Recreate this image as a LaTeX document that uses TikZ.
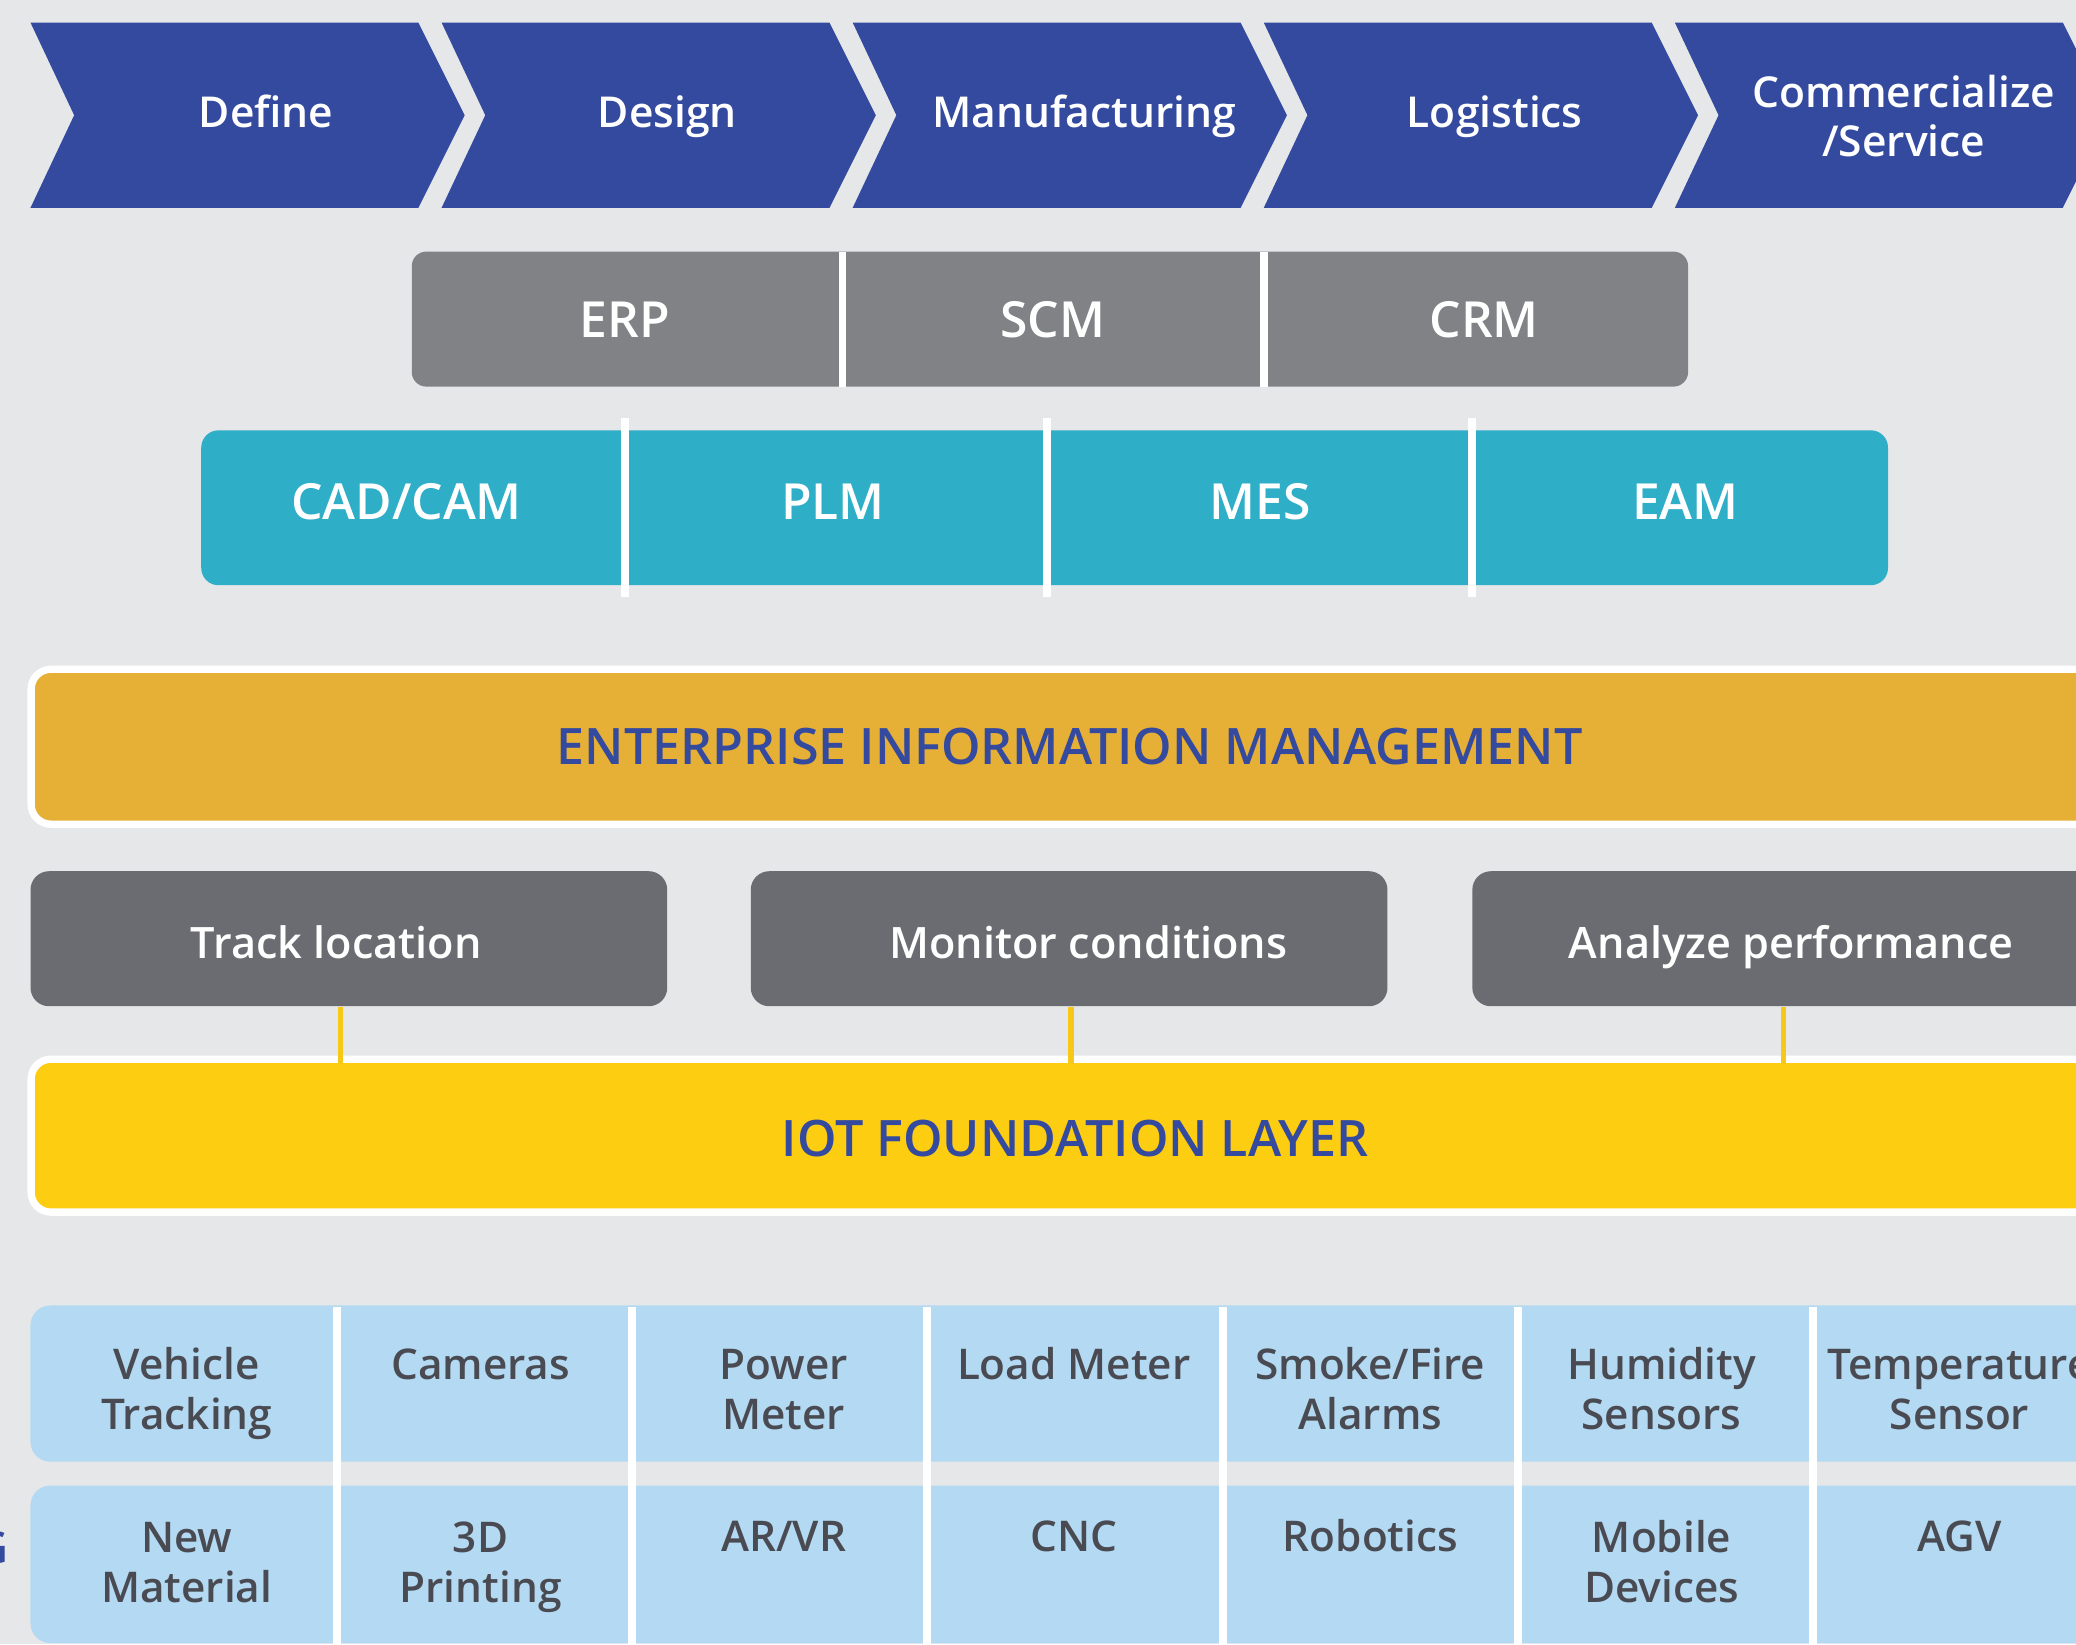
\documentclass[tikz,border=0pt]{standalone}
\usepackage{fontspec}
\setmainfont{Open Sans}
\IfFontExistsTF{Open Sans SemiBold}{\newfontfamily\sbf{Open Sans SemiBold}}{%
  \IfFontExistsTF{Open Sans Semibold}{\newfontfamily\sbf{Open Sans Semibold}}{%
    \newfontfamily\sbf{Open Sans}[FakeBold=1.3]}}
\definecolor{cbg}{HTML}{E6E7E9}
\definecolor{cblue}{HTML}{344A9F}
\definecolor{cgray}{HTML}{808286}
\definecolor{cteal}{HTML}{2FAEC8}
\definecolor{corange}{HTML}{E6AF36}
\definecolor{cdark}{HTML}{6B6C71}
\definecolor{cyellow}{HTML}{FDCD12}
\definecolor{cline}{HTML}{F7C816}
\definecolor{clight}{HTML}{B3DAF2}
\definecolor{ctext}{HTML}{4A4B52}
\begin{document}
\begin{tikzpicture}[x=0.02cm,y=-0.02cm,
  chevtxt/.style={text=white, inner sep=0, align=center, anchor=base, font=\sbf\fontsize{18.3}{21}\selectfont},
  bartxt/.style={text=white, inner sep=0, anchor=base, font=\sbf\fontsize{21.4}{26}\selectfont},
  layertxt/.style={text=cblue, inner sep=0, anchor=base, font=\sbf\fontsize{21.6}{26}\selectfont},
  darkbox/.style={fill=cdark, rounded corners=0.28cm, inner sep=0,
     minimum width=9.62cm, minimum height=2.04cm},
  boxtxt/.style={text=white, inner sep=0, anchor=base, font=\sbf\fontsize{18.6}{23}\selectfont},
  conn/.style={draw=cline, line width=0.08cm},
  celltxt/.style={text=ctext, inner sep=0, align=center, anchor=base, font=\sbf\fontsize{18.2}{21.5}\selectfont},
  divider/.style={fill=white}
]
\useasboundingbox (0,0) rectangle (1568,1242);
\fill[cbg] (0,0) rectangle (1568,1242);
\clip (0,0) rectangle (1568,1242);

% chevrons
\foreach \x in {23,333.5,644,954.5,1265}
  \fill[cblue] (\x,17) -- ++(293,0) -- ++(35,70) -- ++(-35,70) -- ++(-293,0) -- ++(33,-70) -- cycle;
\node[chevtxt] (define) at (201,96) {Define};
\node[chevtxt] (design) at (504,96) {Design};
\node[chevtxt] (manuf) at (819,96) {Manufacturing};
\node[chevtxt] (logis) at (1129,96) {Logistics};
\node[chevtxt] (comm) at (1438,118) {Commercialize\\/Service};

% ERP / SCM / CRM
\fill[cgray, rounded corners=0.22cm] (311,190) rectangle (1275,292);
\fill[divider] (633.5,190) rectangle (639,292);
\fill[divider] (952,190) rectangle (957.5,292);
\node[bartxt] (erp) at (472,255) {ERP};
\node[bartxt] (scm) at (795,255) {SCM};
\node[bartxt] (crm) at (1121,255) {CRM};

% CAD/CAM row
\fill[cteal, rounded corners=0.26cm] (152,325) rectangle (1426,442);
\fill[divider] (469,316) rectangle (475,451);
\fill[divider] (788,316) rectangle (794,451);
\fill[divider] (1109,316) rectangle (1115,451);
\node[bartxt] (cad) at (307,392) {CAD/CAM};
\node[bartxt] (plm) at (629,392) {PLM};
\node[bartxt] (mes) at (952,392) {MES};
\node[bartxt] (eam) at (1273,392) {EAM};

% Enterprise information management
\draw[white, line width=0.11cm, fill=corange, rounded corners=0.3cm] (23.5,505.5) rectangle (1750,622.5);
\node[layertxt] (eim) at (808,577.5) {ENTERPRISE INFORMATION MANAGEMENT};

% dark boxes
\node[darkbox] (track) at (263.5,709) {};
\node[darkbox] (monitor) at (807.5,709) {};
\node[darkbox] (analyze) at (1352.5,709) {};
\node[boxtxt] (tracktxt) at (254,724) {Track location};
\node[boxtxt] (monitortxt) at (822,724) {Monitor conditions};
\node[boxtxt] (analyzetxt) at (1353,724) {Analyze performance};

% IoT layer
\draw[white, line width=0.11cm, fill=cyellow, rounded corners=0.3cm] (23.5,800) rectangle (1750,915.5);
\node[layertxt] (iot) at (812,873.5) {IOT FOUNDATION LAYER};
\coordinate (iottop) at (0,803);
\draw[conn] ([xshift=-0.13cm]track.south) -- ([xshift=-0.13cm]track.south |- iottop);
\draw[conn] ([xshift=0.03cm]monitor.south) -- ([xshift=0.03cm]monitor.south |- iottop);
\draw[conn] ([xshift=-0.11cm]analyze.south) -- ([xshift=-0.11cm]analyze.south |- iottop);

% bottom grid
\fill[clight, rounded corners=0.3cm] (23,986) rectangle (1750,1104);
\fill[clight, rounded corners=0.3cm] (23,1122) rectangle (1750,1241);
\foreach \x in {254.5,477.5,700.5,923.5,1146.5,1369.5}
  \fill[divider] (\x-3,987) rectangle (\x+3,1242);

\node[celltxt] (c11) at (141,1080) {Vehicle\\Tracking};
\node[celltxt] (c12) at (363,1042) {Cameras};
\node[celltxt] (c13) at (592,1080) {Power\\Meter};
\node[celltxt] (c14) at (811,1042) {Load Meter};
\node[celltxt] (c15) at (1035,1080) {Smoke/Fire\\Alarms};
\node[celltxt] (c16) at (1255,1080) {Humidity\\Sensors};
\node[celltxt] (c17) at (1480,1080) {Temperature\\Sensor};

\node[celltxt] (c21) at (141,1210) {New\\Material};
\node[celltxt] (c22) at (363,1210) {3D\\Printing};
\node[celltxt] (c23) at (592,1172) {AR/VR};
\node[celltxt] (c24) at (811,1172) {CNC};
\node[celltxt] (c25) at (1035,1172) {Robotics};
\node[celltxt] (c26) at (1255,1210) {Mobile\\Devices};
\node[celltxt] (c27) at (1480,1172) {AGV};

\node[text=cblue, inner sep=0, anchor=base east, font=\sbf\fontsize{19}{23}\selectfont] (g) at (7,1181) {G};
\end{tikzpicture}
\end{document}
